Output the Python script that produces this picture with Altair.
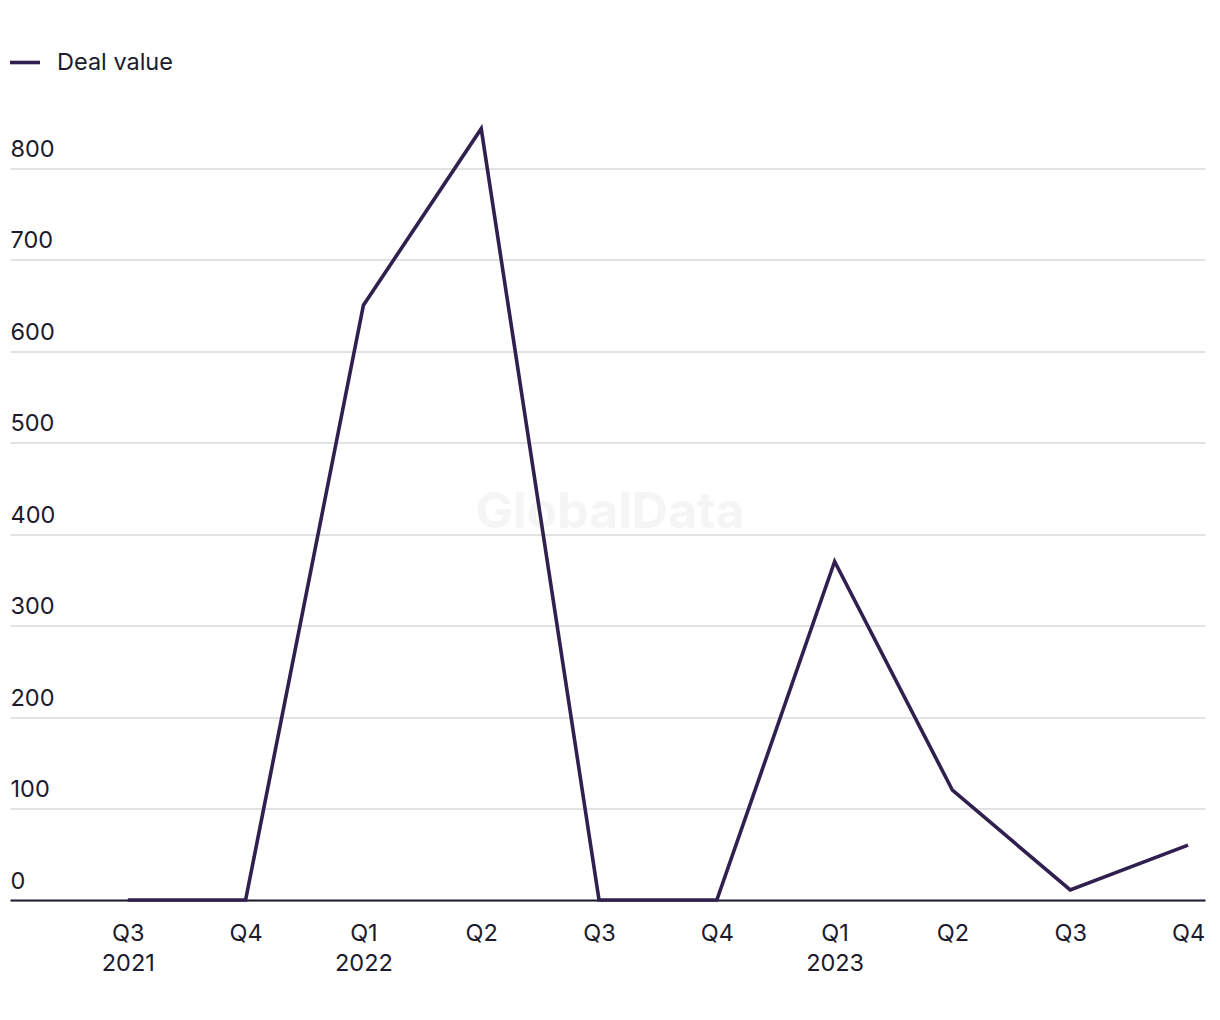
import altair as alt
import pandas as pd

quarter_labels = [["Q3", "2021"], ["Q4"], ["Q1", "2022"], ["Q2"], ["Q3"], ["Q4"], ["Q1", "2023"], ["Q2"], ["Q3"], ["Q4"]]
deal_value = [0, 0, 650, 843, 0, 0, 370, 120, 11, 60]
series_name = "Deal value"
y_ticks = [0, 100, 200, 300, 400, 500, 600, 700, 800]

idx = list(range(len(deal_value)))
df = pd.DataFrame({"idx": idx, "value": deal_value, "series": [series_name] * len(idx)})

label_array = "[" + ",".join("[" + ",".join("'%s'" % p for p in lab) + "]" for lab in quarter_labels) + "]"

FONT = "Inter"
TEXT = "#1c1b2e"
LINE = "#30204f"

W, H = 1195, 823.5

line = alt.Chart(df).mark_line(strokeWidth=3.6, strokeJoin="miter").encode(
    x=alt.X(
        "idx:Q",
        title=None,
        scale=alt.Scale(domain=[-1, 9.144], nice=False, zero=False),
        axis=alt.Axis(
            values=idx,
            labelExpr=label_array + "[datum.value]",
            labelAngle=0,
            labelFontSize=23.5,
            labelFont=FONT,
            labelColor=TEXT,
            labelPadding=21,
            labelLineHeight=30,
            labelFlush=False,
            labelOverlap=False,
            ticks=False,
            domainColor=TEXT,
            domainWidth=2,
            grid=False,
        ),
    ),
    y=alt.Y(
        "value:Q",
        title=None,
        scale=alt.Scale(domain=[0, 900], nice=False),
        axis=alt.Axis(
            values=y_ticks,
            orient="left",
            labelAlign="left",
            labelBaseline="bottom",
            labelPadding=0,
            labelOffset=-7,
            labelFontSize=23.5,
            labelFont=FONT,
            labelColor=TEXT,
            ticks=False,
            domain=False,
            grid=True,
            gridColor="#d9d9d9",
            gridWidth=1.5,
        ),
    ),
    color=alt.Color(
        "series:N",
        scale=alt.Scale(range=[LINE]),
        legend=alt.Legend(
            title=None,
            orient="none",
            legendX=-2,
            legendY=-31,
            symbolType="stroke",
            symbolSize=900,
            symbolStrokeWidth=3.6,
            labelFontSize=23.5,
            labelFont=FONT,
            labelColor=TEXT,
            labelOffset=15,
        ),
    ),
)

watermark = alt.Chart(pd.DataFrame({"t": ["GlobalData"]})).mark_text(
    fontSize=50, fontWeight="bold", font=FONT, color="#f5f5f5", align="center", baseline="middle"
).encode(text="t:N", x=alt.value(600), y=alt.value(436))

chart = alt.layer(watermark, line).properties(
    width=W,
    height=H,
    background="white",
    autosize=alt.AutoSizeParams(type="none"),
    padding={"left": 10, "top": 76.5, "right": 15, "bottom": 120},
).configure_view(strokeWidth=0, stroke="transparent")

chart.save("out.html", embed_options={"renderer": "svg", "actions": False})
